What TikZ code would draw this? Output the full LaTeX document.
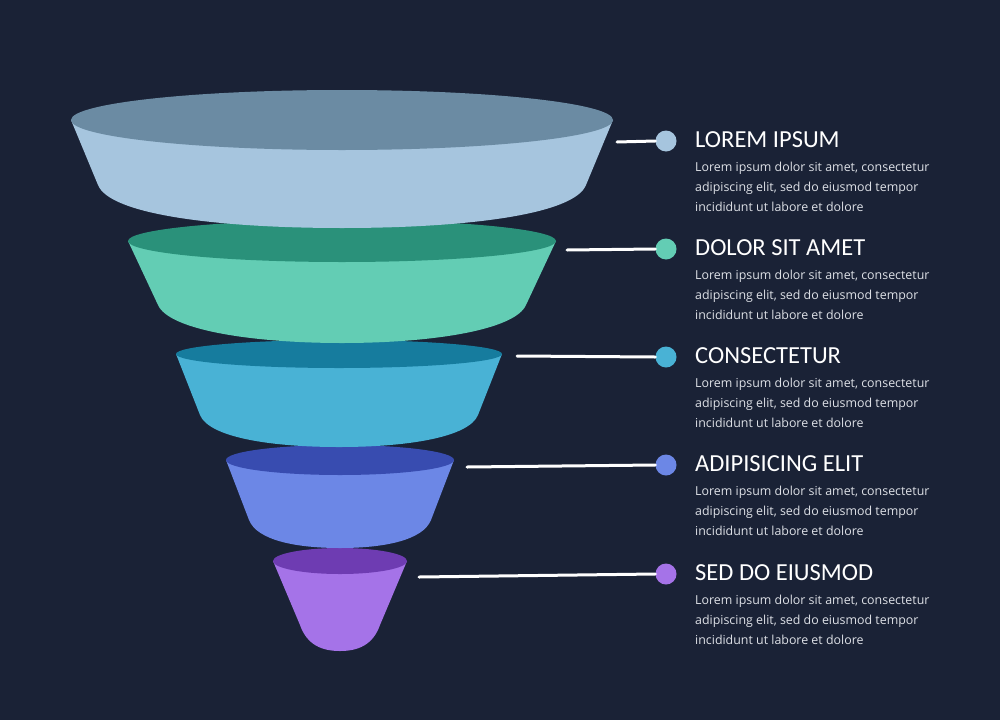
\documentclass[tikz,border=0pt]{standalone}
\usepackage{fontspec}
\setmainfont{Open Sans}
\newfontfamily\titlefont{Carlito}
\definecolor{bgnavy}{HTML}{1A2236}
\definecolor{bodygray}{HTML}{DDE0E6}
\definecolor{segA}{HTML}{A6C5DE}\definecolor{segAtop}{HTML}{6B8BA3}
\definecolor{segB}{HTML}{63CDB4}\definecolor{segBtop}{HTML}{2A917A}
\definecolor{segC}{HTML}{49B2D5}\definecolor{segCtop}{HTML}{167C9E}
\definecolor{segD}{HTML}{6C87E6}\definecolor{segDtop}{HTML}{384CB0}
\definecolor{segE}{HTML}{A573E8}\definecolor{segEtop}{HTML}{6E3CB2}
\begin{document}
\begin{tikzpicture}[x=1pt,y=-1pt,
  dot/.style={circle,inner sep=0pt,minimum size=21pt},
  title/.style={anchor=base west,inner sep=0pt,text=white,font=\titlefont\fontsize{24.5}{26}\selectfont},
  blurb/.style={anchor=base west,inner sep=0pt,align=left,text=bodygray,font=\fontsize{12.4}{20}\selectfont},
  link/.style={draw=white,line width=3pt,line cap=round}]
\fill[bgnavy] (0,0) rectangle (1000,720);
% funnel segments, the lowest one first so each upper one lies over it
\foreach \cx/\ty/\rx/\ry/\aw/\ay/\kw/\ky/\qw/\by/\col in {
  340/561/67/13/40/625/33/645/18/651/segE,
  340/460/114/15/91/520/83/540/45/548/segD,
  339/354/163/14/139/415/130/437/70/447/segC,
  342/241/214/21/184/305/173/330/90/343/segB,
  342/120/271/30/244/185/232/215/122/228/segA}
{
  \fill[\col] (\cx-\rx,\ty) -- (\cx-\aw,\ay) .. controls (\cx-\kw,\ky) and (\cx-\qw,\by) .. (\cx,\by)
    .. controls (\cx+\qw,\by) and (\cx+\kw,\ky) .. (\cx+\aw,\ay) -- (\cx+\rx,\ty) -- cycle;
  \fill[\col top] (\cx,\ty) ellipse [x radius=\rx, y radius=\ry];
}
% dots, titles and text (base of the blurb is its last line)
\foreach \i/\x/\ly/\y/\col/\head in {
  1/617/142/141/segA/LOREM IPSUM,
  2/567/250/249/segB/DOLOR SIT AMET,
  3/517/356/357/segC/CONSECTETUR,
  4/467/467/465/segD/ADIPISICING ELIT,
  5/419/577/574/segE/SED DO EIUSMOD}
{
  \coordinate (from\i) at (\x,\ly);
  \node[dot,fill=\col] (dot\i) at (666,\y) {};
  \node[title] (head\i) at (695,\y+6.5) {\head};
  \node[blurb] (text\i) at (695,\y+70) {Lorem ipsum dolor sit amet, consectetur\\adipiscing elit, sed do eiusmod tempor\\incididunt ut labore et dolore};
  \draw[link] (from\i) -- (dot\i.west);
}
\end{tikzpicture}
\end{document}
